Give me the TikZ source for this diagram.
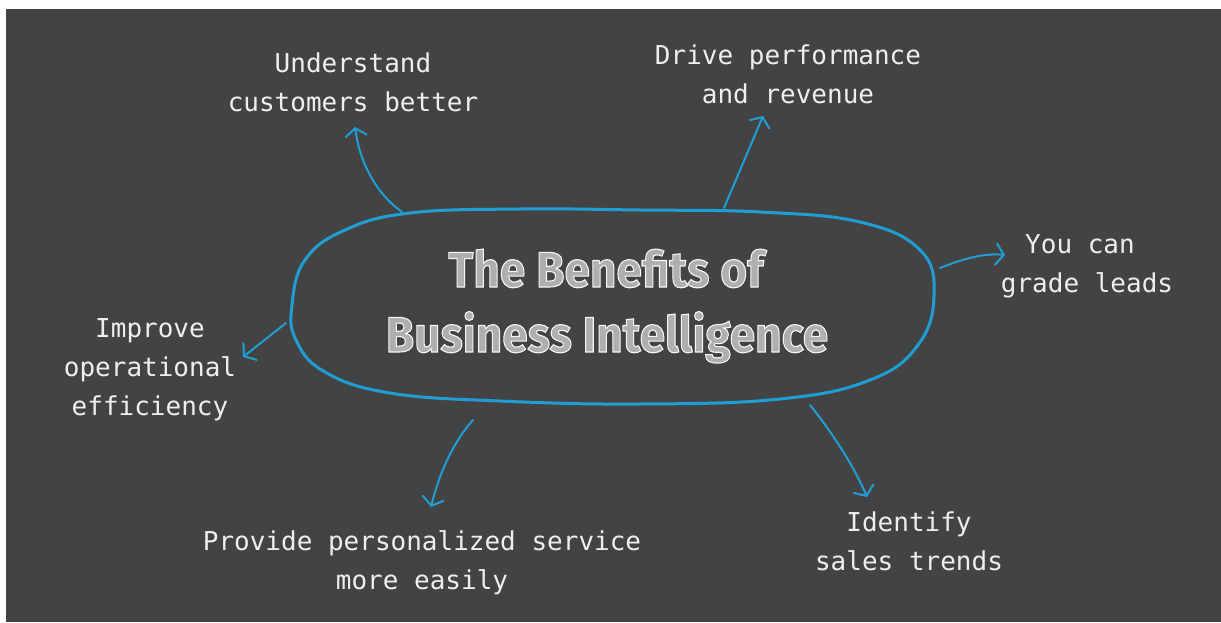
\documentclass[tikz,border=0pt]{standalone}
\usepackage{fontspec}
\usetikzlibrary{arrows.meta}
\setmonofont{DejaVu Sans Mono}
\newfontfamily\titlefont{Fira Sans}
\definecolor{board}{RGB}{67,67,67}
\definecolor{chalkblue}{RGB}{32,158,212}
\definecolor{chalkwhite}{RGB}{238,238,238}
\definecolor{titlefill}{RGB}{175,175,175}
% outlined chalk lettering: fill and stroke the glyphs
\newcommand{\chalktitle}[1]{\scalebox{0.92}[1]{\special{pdf:literal direct 2 Tr 1.1 w 0.97 0.97 0.97 RG}#1\special{pdf:literal direct 0 Tr}}}
\tikzset{
  label/.style={font=\ttfamily\fontsize{26}{39}\selectfont, text=chalkwhite, inner sep=0pt, anchor=base, align=center},
  heading/.style={font=\titlefont\bfseries\fontsize{50}{60}\selectfont, text=titlefill, inner sep=0pt, anchor=base},
  link/.style={draw=chalkblue, line width=2pt, line cap=round,
    -{Straight Barb[length=8pt,width=22pt,line width=2pt]}},
  loop/.style={draw=chalkblue, line width=3pt, line cap=round, line join=round}
}
\begin{document}
\begin{tikzpicture}[x=1pt,y=-1pt]
  \useasboundingbox (0,0) rectangle (1221,622);
  \fill[white] (0,0) rectangle (1221,622);
  \fill[board] (6,9) rectangle (1221,622);

  % central heading
  \node[heading] (title1) at (606,287) {\chalktitle{The Benefits of}};
  \node[heading] (title2) at (607,352) {\chalktitle{Business Intelligence}};

  % hand-drawn loop around the heading
  \draw[loop] plot[smooth cycle, tension=0.7] coordinates {
    (292,305) (305,260) (345,230) (410,213) (520,209) (640,210)
    (760,212) (860,222) (920,250) (934,295) (918,345) (870,380)
    (780,399) (640,404) (500,401) (390,393) (325,372) (296,340)};

  % benefit labels (anchored at the baseline of the last line)
  \node[label] (understand) at (353,111) {Understand\\customers better};
  \node[label] (drive) at (788,103) {Drive performance\\and revenue};
  \node[label] (grade) at (1087,292) {\hspace*{-14pt}You can\\grade leads};
  \node[label] (improve) at (150,415) {Improve\\operational\\efficiency};
  \node[label] (provide) at (422,589) {Provide personalized service\\more easily};
  \node[label] (identify) at (909,570) {Identify\\sales trends};

  % connector ends
  \coordinate (s1) at (402,212); \coordinate (e1) at (355,127);
  \coordinate (s2) at (724,208); \coordinate (e2) at (763,116);
  \coordinate (s3) at (940,268); \coordinate (e3) at (1005,255);
  \coordinate (s4) at (286,323); \coordinate (e4) at (243,357);
  \coordinate (s5) at (473,420); \coordinate (e5) at (431,507);
  \coordinate (s6) at (810,405); \coordinate (e6) at (867,497);

  \draw[link] (s1) .. controls (378,195) and (360,165) .. (e1);
  \draw[link] (s2) -- (e2);
  \draw[link] (s3) .. controls (965,258) and (985,253) .. (e3);
  \draw[link] (s4) -- (e4);
  \draw[link] (s5) .. controls (455,440) and (440,470) .. (e5);
  \draw[link] (s6) .. controls (830,430) and (852,462) .. (e6);
\end{tikzpicture}
\end{document}
